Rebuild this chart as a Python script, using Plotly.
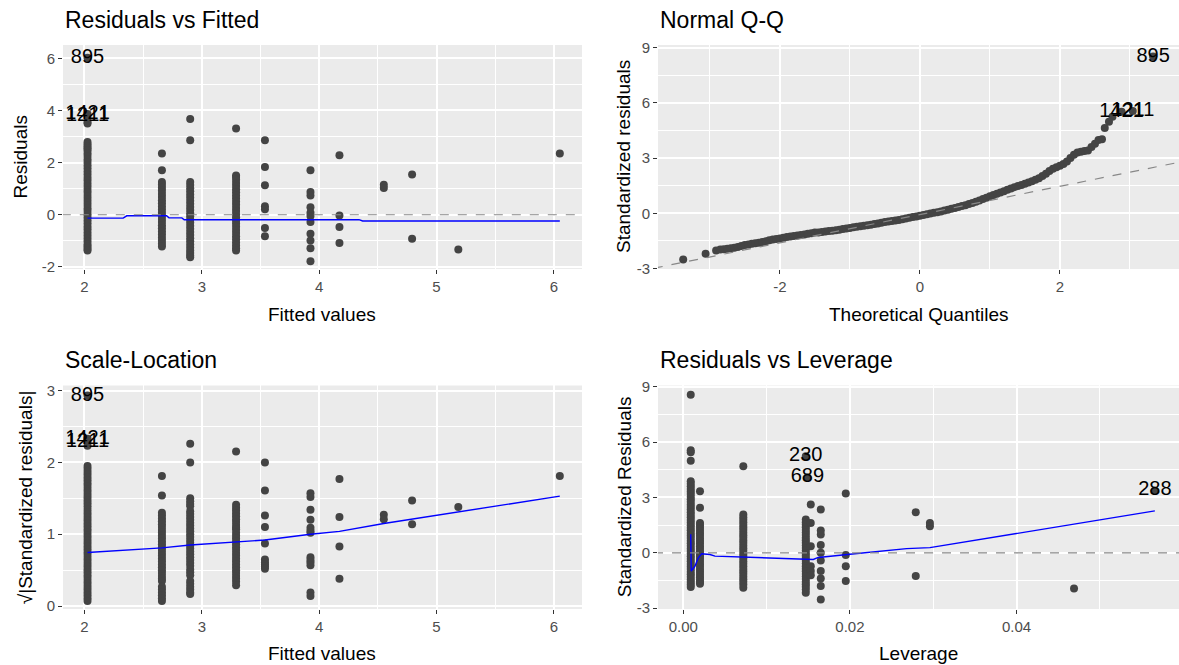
import plotly.graph_objects as go

FONT = "Liberation Sans, Arial, sans-serif"
PT = "#444444"
W, H = 1179, 680
# the captured picture maps page rows as  pic_y = A + B * page_y  (measured)
A, B = 6.5, 0.9765


def PX(x):
    return x / W


def PY(y_pic):
    return 1 - ((y_pic - A) / B) / H


# ---------------- Residuals vs Fitted ----------------
fitted_levels = [2.026, 2.660, 2.901, 3.292, 3.538, 3.926, 4.173, 4.551, 4.792, 5.186, 6.051]
rvf_resid = [
    [3.56, 3.50, 2.79, 2.70, 2.62, 2.55, 2.47, 2.36, 2.25, 2.13, 2.02, 1.90, 1.78, 1.66, 1.54, 1.42, 1.31,
     1.19, 1.07, 0.95, 0.84, 0.72, 0.60, 0.49, 0.37, 0.25, 0.14, 0.02, -0.10, -0.21, -0.33, -0.45, -0.56,
     -0.68, -0.80, -0.91, -1.03, -1.14, -1.22, -1.30, -1.37],
    [2.35, 1.71, 1.26, 1.15, 1.04, 0.92, 0.80, 0.68, 0.56, 0.44, 0.32, 0.20, 0.08, -0.04, -0.16, -0.28,
     -0.40, -0.52, -0.64, -0.76, -0.88, -1.00, -1.11, -1.22],
    [3.67, 2.86, 1.26, 1.14, 1.02, 0.90, 0.78, 0.66, 0.54, 0.42, 0.30, 0.18, 0.06, -0.06, -0.18, -0.30,
     -0.42, -0.54, -0.66, -0.78, -0.90, -1.02, -1.14, -1.26, -1.37, -1.47, -1.56, -1.63],
    [3.31, 1.51, 1.45, 1.34, 1.22, 1.10, 0.98, 0.86, 0.74, 0.62, 0.50, 0.38, 0.26, 0.14, 0.02, -0.10,
     -0.22, -0.34, -0.46, -0.58, -0.70, -0.82, -0.94, -1.06, -1.18, -1.28, -1.37],
    [2.86, 1.83, 1.13, 0.33, 0.21, -0.51, -0.82],
    [1.71, 0.87, 0.74, 0.29, 0.08, -0.05, -0.28, -0.73, -0.99, -1.28, -1.78],
    [2.28, -0.03, -0.47, -1.08],
    [1.15, 1.03],
    [1.54, -0.92],
    [-1.33],
    [2.35],
]
rvf_out_fitted = [2.026, 2.026, 2.026]
rvf_out_resid = [6.02, 3.86, 3.80]
rvf_out_id = ["895", "1421", "1211"]
rvf_smooth_x = [2.026, 2.33, 2.36, 2.70, 2.72, 2.83, 2.85, 4.34, 4.37, 6.051]
rvf_smooth_y = [-0.13, -0.13, -0.04, -0.04, -0.12, -0.12, -0.19, -0.19, -0.24, -0.24]

# ---------------- Normal Q-Q ----------------
qq_theoretical = [
    -3.38, -3.06, -2.91, -2.85, -2.80, -2.75, -2.70, -2.65, -2.60, -2.55, -2.50, -2.45, -2.40, -2.35,
    -2.30, -2.25, -2.20, -2.15, -2.10, -2.05, -2.00, -1.95, -1.90, -1.85, -1.80, -1.75, -1.70, -1.65,
    -1.60, -1.55, -1.50, -1.45, -1.40, -1.35, -1.30, -1.25, -1.20, -1.15, -1.10, -1.05, -1.00, -0.95,
    -0.90, -0.85, -0.80, -0.75, -0.70, -0.65, -0.60, -0.55, -0.50, -0.45, -0.40, -0.35, -0.30, -0.25,
    -0.20, -0.15, -0.10, -0.05, 0.00, 0.05, 0.10, 0.15, 0.20, 0.25, 0.30, 0.35, 0.40, 0.45, 0.50, 0.55,
    0.60, 0.65, 0.70, 0.75, 0.80, 0.85, 0.90, 0.95, 1.00, 1.05, 1.10, 1.15, 1.20, 1.25, 1.30, 1.35,
    1.40, 1.45, 1.50, 1.55, 1.60, 1.65, 1.70, 1.75, 1.80, 1.85, 1.90, 1.95, 2.00, 2.05, 2.10, 2.15,
    2.20, 2.25, 2.30, 2.35, 2.40, 2.45, 2.50, 2.55, 2.60, 2.64, 2.70, 2.75]
qq_std_resid = [
    -2.52, -2.20, -2.02, -1.97, -1.95, -1.93, -1.90, -1.87, -1.83, -1.78, -1.73, -1.70, -1.66, -1.63,
    -1.60, -1.56, -1.52, -1.47, -1.43, -1.40, -1.37, -1.33, -1.29, -1.26, -1.24, -1.21, -1.18, -1.15,
    -1.12, -1.08, -1.05, -1.04, -1.02, -0.99, -0.97, -0.95, -0.92, -0.89, -0.86, -0.83, -0.80, -0.76,
    -0.73, -0.70, -0.68, -0.65, -0.62, -0.59, -0.56, -0.52, -0.48, -0.45, -0.42, -0.39, -0.36, -0.32,
    -0.28, -0.24, -0.20, -0.17, -0.13, -0.10, -0.06, -0.01, 0.03, 0.06, 0.10, 0.15, 0.19, 0.24, 0.29,
    0.34, 0.39, 0.44, 0.50, 0.56, 0.62, 0.70, 0.78, 0.85, 0.92, 0.99, 1.06, 1.13, 1.20, 1.28, 1.35,
    1.42, 1.48, 1.54, 1.60, 1.67, 1.74, 1.82, 1.90, 2.02, 2.15, 2.30, 2.42, 2.50, 2.58, 2.68, 2.82,
    3.00, 3.18, 3.30, 3.35, 3.38, 3.42, 3.60, 3.78, 3.98, 4.02, 4.64, 4.98, 5.25]
qq_out_theoretical = [3.33, 2.88, 3.04]
qq_out_std_resid = [8.52, 5.52, 5.56]
qq_out_id = ["895", "1421", "1211"]
qq_line_x = [-3.8, 3.8]
qq_line_y = [-2.99, 2.85]

# ---------------- Scale-Location ----------------
sl_sqrt_std_resid = [
    [2.23, 1.95, 1.91, 1.87, 1.83, 1.79, 1.75, 1.71, 1.67, 1.63, 1.59, 1.55, 1.51, 1.47, 1.43, 1.39,
     1.35, 1.31, 1.27, 1.23, 1.19, 1.15, 1.11, 1.07, 1.03, 0.99, 0.95, 0.91, 0.87, 0.83, 0.79, 0.75,
     0.71, 0.67, 0.63, 0.59, 0.55, 0.51, 0.47, 0.43, 0.39, 0.35, 0.31, 0.27, 0.23, 0.19, 0.15, 0.11,
     0.07],
    [1.81, 1.54, 1.30, 1.26, 1.22, 1.18, 1.14, 1.10, 1.06, 1.02, 0.98, 0.94, 0.90, 0.86, 0.82, 0.78,
     0.74, 0.70, 0.66, 0.62, 0.58, 0.54, 0.50, 0.46, 0.42, 0.38, 0.35, 0.27, 0.23, 0.19, 0.15, 0.11,
     0.07],
    [2.26, 2.00, 1.50, 1.46, 1.42, 1.39, 1.32, 1.28, 1.24, 1.20, 1.16, 1.12, 1.08, 1.04, 1.00, 0.96,
     0.92, 0.88, 0.84, 0.80, 0.76, 0.72, 0.68, 0.64, 0.60, 0.56, 0.51, 0.47, 0.43, 0.35, 0.31, 0.27,
     0.23, 0.19, 0.17],
    [2.15, 1.41, 1.37, 1.33, 1.29, 1.25, 1.21, 1.17, 1.13, 1.09, 1.07, 1.02, 0.98, 0.94, 0.90, 0.86,
     0.82, 0.78, 0.74, 0.70, 0.66, 0.62, 0.58, 0.54, 0.50, 0.46, 0.42, 0.38, 0.34, 0.29],
    [2.00, 1.61, 1.26, 1.10, 0.87, 0.65, 0.61, 0.58, 0.55, 0.52],
    [1.57, 1.52, 1.34, 1.20, 1.09, 1.05, 1.02, 0.68, 0.64, 0.61, 0.57, 0.19, 0.14],
    [1.77, 1.24, 0.83, 0.38],
    [1.27, 1.21],
    [1.47, 1.14],
    [1.38],
    [1.81],
]
sl_out_fitted = [2.026, 2.026, 2.026]
sl_out_value = [2.93, 2.33, 2.29]
sl_out_id = ["895", "1421", "1211"]
sl_smooth_x = [2.026, 2.660, 2.901, 3.292, 3.538, 3.926, 4.173, 4.551, 4.792, 5.186, 6.051]
sl_smooth_y = [0.745, 0.81, 0.85, 0.89, 0.92, 1.00, 1.04, 1.15, 1.21, 1.31, 1.53]

# ---------------- Residuals vs Leverage ----------------
lev_levels = [0.00089, 0.0020, 0.0072, 0.0147, 0.0153, 0.0165, 0.0195, 0.0279, 0.0296, 0.0469]
lev_std_resid = [
    [8.56, 5.55, 5.45, 4.99, 3.88, 3.74, 3.60, 3.46, 3.32, 3.18, 3.04, 2.90, 2.76, 2.62, 2.48, 2.34,
     2.20, 2.06, 1.92, 1.78, 1.64, 1.50, 1.36, 1.22, 1.08, 0.94, 0.80, 0.66, 0.52, 0.38, 0.24, 0.10,
     -0.04, -0.18, -0.32, -0.46, -0.60, -0.74, -0.88, -1.02, -1.16, -1.30, -1.44, -1.58, -1.72,
     -1.85],
    [3.34, 2.44, 1.62, 1.48, 1.34, 1.20, 1.06, 0.92, 0.78, 0.64, 0.50, 0.36, 0.22, 0.08, -0.06, -0.20,
     -0.34, -0.48, -0.62, -0.76, -0.90, -1.04, -1.18, -1.32, -1.46, -1.58, -1.67],
    [4.69, 2.07, 1.93, 1.79, 1.65, 1.51, 1.37, 1.23, 1.09, 0.95, 0.81, 0.67, 0.53, 0.39, 0.25, 0.11,
     -0.03, -0.17, -0.31, -0.45, -0.59, -0.73, -0.87, -1.01, -1.15, -1.29, -1.43, -1.57, -1.71,
     -1.89],
    [1.80, 1.66, 1.52, 1.38, 1.24, 1.10, 0.96, 0.82, 0.68, 0.54, 0.40, 0.26, 0.12, -0.02, -0.16,
     -0.30, -0.44, -0.58, -0.72, -0.86, -1.00, -1.14, -1.28, -1.42, -1.56, -1.70, -1.84, -1.98,
     -2.16],
    [2.61, 1.62, 0.36, -0.72, -0.99, -1.21],
    [2.35, 1.21, 0.99, 0.42, 0.00, -0.41, -0.99, -1.39, -1.80, -2.52],
    [3.21, -0.12, -0.72, -1.53],
    [2.20, -1.26],
    [1.62, 1.44],
    [-1.93],
]
lev_out_leverage = [0.0147, 0.0149, 0.0566]
lev_out_std_resid = [5.23, 4.09, 3.38]
lev_out_id = ["230", "689", "288"]
lev_smooth_x = [0.00089, 0.00095, 0.0014, 0.0018, 0.0022, 0.0032, 0.0038, 0.0060, 0.0108, 0.0156,
                0.0162, 0.0190, 0.0200, 0.0212, 0.0268, 0.0296, 0.0400, 0.0470, 0.0566]
lev_smooth_y = [1.00, -0.99, -0.72, -0.27, -0.05, -0.09, -0.18, -0.22, -0.31, -0.36, -0.25, -0.15,
                -0.08, -0.02, 0.23, 0.28, 1.05, 1.56, 2.27]

# ---------------- tick labels ----------------
fit_ticks = [2, 3, 4, 5, 6]
fit_ticktext = ["2", "3", "4", "5", "6"]
rvf_yticks = [-2, 0, 2, 4, 6]
rvf_yticktext = ["-2", "0", "2", "4", "6"]
qq_xticks = [-2, 0, 2]
qq_xticktext = ["-2", "0", "2"]
std_yticks = [-3, 0, 3, 6, 9]
std_yticktext = ["-3", "0", "3", "6", "9"]
sl_yticks = [0, 1, 2, 3]
sl_yticktext = ["0", "1", "2", "3"]
lev_xticks = [0.0, 0.02, 0.04]
lev_xticktext = ["0.00", "0.02", "0.04"]


def flatten(levels, cols):
    xs, ys = [], []
    for lv, col in zip(levels, cols):
        for v in col:
            xs.append(lv)
            ys.append(v)
    return xs, ys


fig = go.Figure()


def add_panel(n, px, py, ox, oy, oid, sx, sy, dash_x=None, dash_y=None):
    xa, ya = ("x" if n == 1 else f"x{n}"), ("y" if n == 1 else f"y{n}")
    fig.add_trace(go.Scatter(x=px + ox, y=py + oy, mode="markers", xaxis=xa, yaxis=ya,
                             marker=dict(color=PT, size=8, line=dict(width=0)),
                             hoverinfo="skip"))
    if sx is not None:
        fig.add_trace(go.Scatter(x=sx, y=sy, mode="lines", xaxis=xa, yaxis=ya,
                                 line=dict(color="#0000FF", width=1.4), hoverinfo="skip"))
    if dash_x is not None:
        fig.add_trace(go.Scatter(x=dash_x, y=dash_y, mode="lines", xaxis=xa, yaxis=ya,
                                 line=dict(color="#888888", width=1.2, dash="dash"),
                                 hoverinfo="skip"))
    fig.add_trace(go.Scatter(x=ox, y=oy, text=oid, mode="text", xaxis=xa, yaxis=ya,
                             textfont=dict(family=FONT, size=20, color="#000000"),
                             textposition="middle center", hoverinfo="skip"))


p1x, p1y = flatten(fitted_levels, rvf_resid)
add_panel(1, p1x, p1y, rvf_out_fitted, rvf_out_resid, rvf_out_id, rvf_smooth_x, rvf_smooth_y,
          [1.5, 6.5], [0, 0])
add_panel(2, qq_theoretical, qq_std_resid, qq_out_theoretical, qq_out_std_resid, qq_out_id,
          None, None, qq_line_x, qq_line_y)
p3x, p3y = flatten(fitted_levels, sl_sqrt_std_resid)
add_panel(3, p3x, p3y, sl_out_fitted, sl_out_value, sl_out_id, sl_smooth_x, sl_smooth_y)
p4x, p4y = flatten(lev_levels, lev_std_resid)
add_panel(4, p4x, p4y, lev_out_leverage, lev_out_std_resid, lev_out_id, lev_smooth_x, lev_smooth_y,
          [-0.01, 0.07], [0, 0])

LX = [PX(63), PX(582)]
RX = [PX(658), 1.0]
TY = [PY(267.5), PY(43.5)]
BY = [PY(607.5), PY(384)]


def axis(domain, rng, tv, tt, minor_vals, anchor):
    return dict(domain=domain, range=rng, anchor=anchor, tickmode="array", tickvals=tv, ticktext=tt,
                showgrid=True, gridcolor="white", gridwidth=2,
                minor=dict(tickmode="array", tickvals=minor_vals, showgrid=True, gridcolor="white",
                           gridwidth=1, ticks=""),
                ticks="outside", ticklen=4, tickwidth=1, tickcolor="#333333",
                tickfont=dict(family=FONT, size=15, color="#4D4D4D"),
                showline=False, zeroline=False, fixedrange=True)


fig.update_layout(
    width=W, height=H, autosize=False, showlegend=False,
    margin=dict(l=0, r=0, t=0, b=0),
    paper_bgcolor="white", plot_bgcolor="#EBEBEB",
    xaxis=axis(LX, [1.817, 6.24], fit_ticks, fit_ticktext, [2.5, 3.5, 4.5, 5.5], "y"),
    yaxis=axis(TY, [-2.08, 6.51], rvf_yticks, rvf_yticktext, [-1, 1, 3, 5], "x"),
    xaxis2=axis(RX, [-3.74, 3.70], qq_xticks, qq_xticktext, [-3, -1, 1, 3], "y2"),
    yaxis2=axis(TY, [-3.03, 9.15], std_yticks, std_yticktext, [-1.5, 1.5, 4.5, 7.5], "x2"),
    xaxis3=axis(LX, [1.817, 6.24], fit_ticks, fit_ticktext, [2.5, 3.5, 4.5, 5.5], "y3"),
    yaxis3=axis(BY, [-0.04, 3.07], sl_yticks, sl_yticktext, [0.5, 1.5, 2.5], "x3"),
    xaxis4=axis(RX, [-0.00304, 0.0595], lev_xticks, lev_xticktext, [0.01, 0.03, 0.05], "y4"),
    yaxis4=axis(BY, [-3.04, 9.06], std_yticks, std_yticktext, [-1.5, 1.5, 4.5, 7.5], "x4"),
)

titles = ["Residuals vs Fitted", "Normal Q-Q", "Scale-Location", "Residuals vs Leverage"]
title_pos = [(63, 19), (658, 19), (63, 359), (658, 359)]
for t, (tx, ty) in zip(titles, title_pos):
    fig.add_annotation(text=t, x=PX(tx), y=PY(ty), xref="paper", yref="paper",
                       xanchor="left", yanchor="middle", showarrow=False,
                       font=dict(family=FONT, size=23, color="#000000"))

xtitles = ["Fitted values", "Theoretical Quantiles", "Fitted values", "Leverage"]
xtitle_pos = [(322.5, 313), (918.5, 313), (322.5, 652), (918.5, 652)]
for t, (tx, ty) in zip(xtitles, xtitle_pos):
    fig.add_annotation(text=t, x=PX(tx), y=PY(ty), xref="paper", yref="paper",
                       xanchor="center", yanchor="middle", showarrow=False,
                       font=dict(family=FONT, size=19, color="#000000"))

ytitles = ["Residuals", "Standardized residuals", "√|Standardized residuals|", "Standardized Residuals"]
ytitle_pos = [(20.5, 155.5), (624, 155.5), (25, 495.75), (624, 495.75)]
for t, (tx, ty) in zip(ytitles, ytitle_pos):
    fig.add_annotation(text=t, x=PX(tx), y=PY(ty), xref="paper", yref="paper",
                       xanchor="center", yanchor="middle", showarrow=False, textangle=-90,
                       font=dict(family=FONT, size=19, color="#000000"))

fig.write_html(
    "out.html",
    config={"displayModeBar": False},
    post_script="document.body.style.margin='0';document.documentElement.style.overflow='hidden';",
)
